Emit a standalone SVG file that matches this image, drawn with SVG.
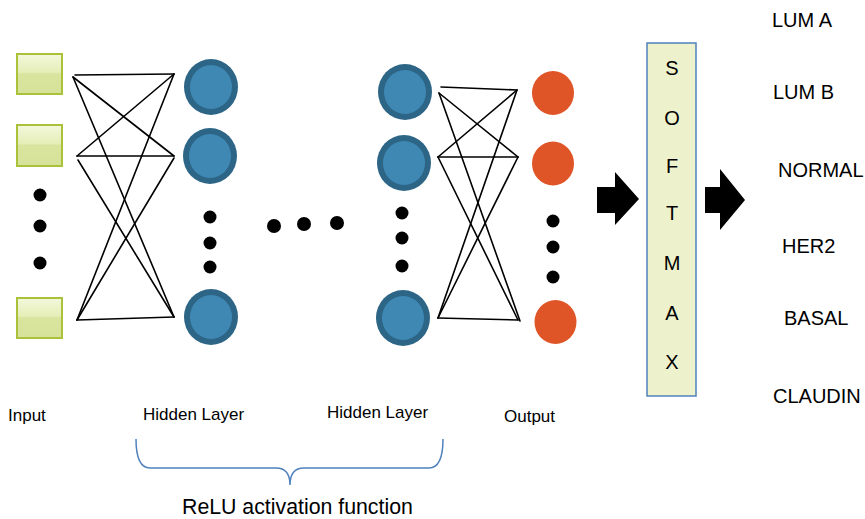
<svg xmlns="http://www.w3.org/2000/svg" width="865" height="519" viewBox="0 0 865 519">
<defs>
<linearGradient id="sq" x1="0" y1="0" x2="0" y2="1">
<stop offset="0" stop-color="#f3f8dc"/>
<stop offset="0.45" stop-color="#e6eeb8"/>
<stop offset="0.5" stop-color="#d9e49e"/>
<stop offset="1" stop-color="#d6e199"/>
</linearGradient>
</defs>
<style>
.sq{fill:url(#sq);stroke:#a9c23a;stroke-width:2}
.ho{fill:#2d6586}
.hi{fill:#3f88b4}
.out{fill:#e05528}
.dot{fill:#000}
.ln{stroke:#000;stroke-width:1.6;fill:none;stroke-linecap:round}
.t{font-family:"Liberation Sans",Arial,sans-serif;fill:#000}
.lab{font-size:17px}
.cls{font-size:20px}
.sm{font-size:20px;text-anchor:middle}
.arr{fill:#000}
</style>
<rect width="865" height="519" fill="#fff"/>

<g id="connectors">
<line class="ln" x1="75" y1="75" x2="174" y2="74"/>
<line class="ln" x1="73" y1="77" x2="174" y2="156"/>
<line class="ln" x1="73" y1="77" x2="174" y2="317"/>
<line class="ln" x1="77" y1="156" x2="174" y2="74"/>
<line class="ln" x1="77" y1="156" x2="174" y2="156"/>
<line class="ln" x1="78" y1="160" x2="174" y2="317"/>
<line class="ln" x1="77" y1="320" x2="174" y2="74"/>
<line class="ln" x1="77" y1="320" x2="174" y2="158"/>
<line class="ln" x1="77" y1="320" x2="174" y2="317"/>

<line class="ln" x1="441" y1="87" x2="517" y2="90"/>
<line class="ln" x1="439" y1="93" x2="518" y2="157"/>
<line class="ln" x1="439" y1="93" x2="520" y2="321"/>
<line class="ln" x1="438" y1="157" x2="517" y2="90"/>
<line class="ln" x1="438" y1="157" x2="518" y2="157"/>
<line class="ln" x1="438" y1="157" x2="518" y2="320"/>
<line class="ln" x1="438" y1="318" x2="517" y2="90"/>
<line class="ln" x1="438" y1="318" x2="518" y2="157"/>
<line class="ln" x1="438" y1="318" x2="518" y2="320"/>
</g>

<g id="input">
<rect class="sq" x="17" y="54" width="45" height="40"/>
<rect class="sq" x="17" y="125" width="45" height="41"/>
<rect class="sq" x="17" y="298" width="45" height="40"/>
<circle class="dot" cx="40" cy="195" r="6.5"/>
<circle class="dot" cx="40" cy="226" r="6.5"/>
<circle class="dot" cx="40" cy="263" r="6.5"/>
</g>

<g id="hidden1">
<ellipse class="ho" cx="211" cy="87" rx="27" ry="28"/><ellipse class="hi" cx="211" cy="87" rx="21" ry="22"/>
<ellipse class="ho" cx="210" cy="156" rx="27" ry="28"/><ellipse class="hi" cx="210" cy="156" rx="21" ry="22"/>
<ellipse class="ho" cx="211" cy="317" rx="27" ry="28"/><ellipse class="hi" cx="211" cy="317" rx="21" ry="22"/>
<circle class="dot" cx="210" cy="217" r="6.5"/>
<circle class="dot" cx="210" cy="243" r="6.5"/>
<circle class="dot" cx="210" cy="267" r="6.5"/>
</g>

<g id="middle-dots">
<circle class="dot" cx="274" cy="226" r="7"/>
<circle class="dot" cx="304" cy="224" r="7"/>
<circle class="dot" cx="337" cy="223" r="7"/>
</g>

<g id="hidden2">
<ellipse class="ho" cx="405" cy="92" rx="27" ry="28"/><ellipse class="hi" cx="405" cy="92" rx="21" ry="22"/>
<ellipse class="ho" cx="404" cy="163" rx="27" ry="28"/><ellipse class="hi" cx="404" cy="163" rx="21" ry="22"/>
<ellipse class="ho" cx="403" cy="318" rx="27" ry="28"/><ellipse class="hi" cx="403" cy="318" rx="21" ry="22"/>
<circle class="dot" cx="402" cy="213" r="6.5"/>
<circle class="dot" cx="402" cy="238" r="6.5"/>
<circle class="dot" cx="402" cy="266" r="6.5"/>
</g>

<g id="output">
<ellipse class="out" cx="553" cy="93" rx="21" ry="22"/>
<ellipse class="out" cx="553" cy="163.5" rx="21" ry="22"/>
<ellipse class="out" cx="555.5" cy="322" rx="21" ry="22"/>
<circle class="dot" cx="553" cy="221" r="6.5"/>
<circle class="dot" cx="553" cy="247" r="6.5"/>
<circle class="dot" cx="553" cy="277" r="6.5"/>
</g>

<g id="arrow-in">
<polygon class="arr" points="597,187 615,187 615,172 639,199 615,225 615,213 597,213"/>
</g>

<g id="softmax">
<rect x="647" y="43" width="49" height="353" fill="#eef2cc" stroke="#4f81bd" stroke-width="1.5"/>
<text class="t sm" x="672" y="75">S</text>
<text class="t sm" x="672" y="125">O</text>
<text class="t sm" x="672" y="173">F</text>
<text class="t sm" x="672" y="220">T</text>
<text class="t sm" x="672" y="270">M</text>
<text class="t sm" x="672" y="320">A</text>
<text class="t sm" x="672" y="369">X</text>
</g>

<g id="arrow-out">
<polygon class="arr" points="705,187 720,187 720,169 745,200 720,230 720,213 705,213"/>
</g>

<g id="classes">
<text class="t cls" x="772" y="27">LUM A</text>
<text class="t cls" x="773" y="99">LUM B</text>
<text class="t cls" x="778" y="177">NORMAL</text>
<text class="t cls" x="782" y="253">HER2</text>
<text class="t cls" x="784" y="325">BASAL</text>
<text class="t cls" x="773" y="403">CLAUDIN</text>
</g>

<g id="labels">
<text class="t lab" x="8" y="421">Input</text>
<text class="t lab" x="143" y="420">Hidden Layer</text>
<text class="t lab" x="327" y="418">Hidden Layer</text>
<text class="t lab" x="504" y="422">Output</text>
</g>

<g id="brace">
<path d="M136,439 Q136,468 150,468 L276,468 Q290,468 290,485 Q290,468 304,468 L429,468 Q443,468 443,439" fill="none" stroke="#4f81bd" stroke-width="1.5"/>
<text class="t" x="182" y="514" font-size="21.3">ReLU activation function</text>
</g>
</svg>
